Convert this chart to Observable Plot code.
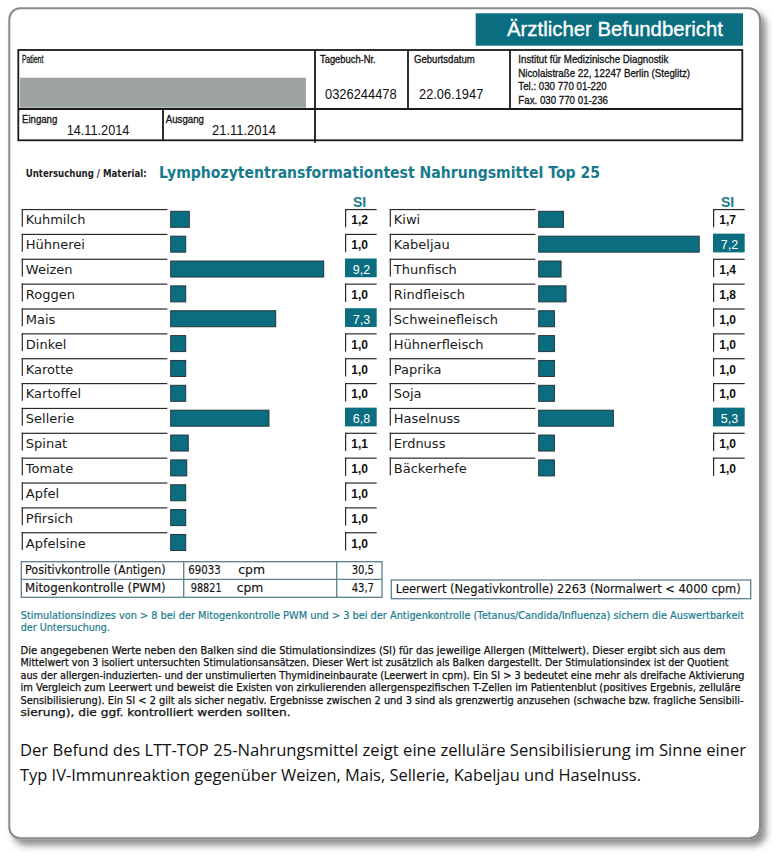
<!DOCTYPE html>
<html><head><meta charset="utf-8">
<script src="https://cdn.jsdelivr.net/npm/d3@7"></script>
<script src="https://cdn.jsdelivr.net/npm/@observablehq/plot@0.6"></script>
<style>
html,body{margin:0;padding:0;background:#fff;}
#page{position:relative;width:774px;height:854px;overflow:hidden;}
#page svg{position:absolute;}
</style></head><body><div id="page"></div>
<script>
// ---------- data ----------
const leftNames  = ["Kuhmilch","Hühnerei","Weizen","Roggen","Mais","Dinkel","Karotte","Kartoffel","Sellerie","Spinat","Tomate","Apfel","Pfirsich","Apfelsine"];
const leftSI     = [1.2,1.0,9.2,1.0,7.3,1.0,1.0,1.0,6.8,1.1,1.0,1.0,1.0,1.0];
// bar lengths as drawn in the report (SI units)
const leftBar    = [1.24,1.0,10.2,1.0,7.0,1.0,1.0,1.0,6.55,1.17,1.07,1.0,1.0,1.0];
const rightNames = ["Kiwi","Kabeljau","Thunfisch","Rindfleisch","Schweinefleisch","Hühnerfleisch","Paprika","Soja","Haselnuss","Erdnuss","Bäckerhefe"];
const rightSI    = [1.7,7.2,1.4,1.8,1.0,1.0,1.0,1.0,5.3,1.0,1.0];
const rightBar   = [1.65,10.7,1.49,1.82,1.05,1.05,1.05,1.05,4.98,1.05,1.05];
const siThreshold = 3;
const controlLabels = ["Positivkontrolle (Antigen)","Mitogenkontrolle (PWM)"];
const controlCpm    = ["69033","98821"];
const controlSI     = ["30,5","43,7"];

const TEAL = "#0b6e80", INK = "#2b2b2b";
const SANS = "Liberation Sans, Arial, sans-serif";
const NARROW = "Liberation Sans Narrow, Liberation Sans, Arial, sans-serif";
const GEO = "DejaVu Sans, sans-serif";

// ---------- static document ----------
const page = d3.select("#page");
const svg = page.append("svg").attr("width",774).attr("height",854).style("left","0px").style("top","0px");
const f = svg.append("defs").append("filter").attr("id","sh").attr("x","-5%").attr("y","-5%").attr("width","115%").attr("height","115%");
f.append("feDropShadow").attr("dx",5).attr("dy",6).attr("stdDeviation",3.5).attr("flood-color","#000").attr("flood-opacity",0.45);
svg.append("rect").attr("x",9.3).attr("y",8.3).attr("width",750.7).attr("height",830).attr("rx",11)
  .attr("fill","#fff").attr("stroke","#8a8a8a").attr("stroke-width",2).attr("filter","url(#sh)");

function T(s, x, y, o = {}) {
  const t = svg.append("text").attr("x", x).attr("y", y).text(s)
    .attr("font-family", o.font || SANS).attr("font-size", o.size || 10).attr("fill", o.fill || "#111");
  if (o.weight) t.attr("font-weight", o.weight);
  if (o.w) t.attr("textLength", o.w).attr("lengthAdjust", "spacingAndGlyphs");
  if (o.stroke) t.attr("stroke", o.stroke).attr("stroke-width", o.sw || 0.3);
  return t;
}
function L(x1, y1, x2, y2, stroke = "#1a1a1a", w = 1.8) {
  svg.append("line").attr("x1",x1).attr("y1",y1).attr("x2",x2).attr("y2",y2).attr("stroke",stroke).attr("stroke-width",w);
}

// header box
svg.append("rect").attr("x",475.7).attr("y",13.3).attr("width",267.3).attr("height",32.4).attr("fill",TEAL);
T("Ärztlicher Befundbericht", 507, 35.7, {size: 20.5, fill: "#fff", w: 216, stroke: "#fff", sw: 0.35});

// patient table
svg.append("rect").attr("x",20).attr("y",77.7).attr("width",286).attr("height",30).attr("fill","#9ea3a3");
svg.append("rect").attr("x",18.3).attr("y",50).attr("width",724).attr("height",90.3).attr("fill","none").attr("stroke","#1a1a1a").attr("stroke-width",1.8);
L(18.3,109,742.3,109);
L(315,50,315,142.7);
L(408,50,408,109);
L(510,50,510,109);
L(163,109,163,140.3);
const lab = {font: NARROW, size: 10.5, stroke: "#111", sw: 0.3};
T("Patient", 22, 63.3, {...lab, w: 21.3});
T("Tagebuch-Nr.", 320, 63.3, {...lab, w: 55.7});
T("0326244478", 325, 99, {font: NARROW, size: 15.5, w: 71.7});
T("Geburtsdatum", 414, 63.3, {...lab, w: 60.7});
T("22.06.1947", 419, 99, {font: NARROW, size: 15.5, w: 64.3});
const inst = {font: NARROW, size: 11, stroke: "#111", sw: 0.3};
T("Institut für Medizinische Diagnostik", 518.3, 63.3, {...inst, w: 150});
T("Nicolaistraße 22, 12247 Berlin (Steglitz)", 518.3, 76.5, {...inst, w: 171.7});
T("Tel.: 030 770 01-220", 518.3, 90, {...inst, w: 88.4});
T("Fax. 030 770 01-236", 518.3, 104, {...inst, w: 89.7});
T("Eingang", 22, 123.3, {...lab, w: 35.3});
T("14.11.2014", 66.7, 135, {font: NARROW, size: 15, w: 62.7});
T("Ausgang", 165.7, 123.3, {...lab, w: 38.3});
T("21.11.2014", 212, 135, {font: NARROW, size: 15, w: 64});

// title line
T("Untersuchung / Material:", 25.7, 177.3, {font: GEO, size: 9.8, weight: "bold", w: 121, fill: "#222"});
T("Lymphozytentransformationtest Nahrungsmittel Top 25", 159, 177.5, {font: GEO, size: 16, weight: "bold", w: 441, fill: "#177a8c"});

// control table
const CB = "#5d7f8f";
svg.append("rect").attr("x",21.3).attr("y",561.7).attr("width",360.7).attr("height",35.6).attr("fill","none").attr("stroke",CB).attr("stroke-width",1.3);
L(21.3,579.3,382,579.3,CB,1.3);
L(183.7,561.7,183.7,597.3,CB,1.3);
L(336.7,561.7,336.7,597.3,CB,1.3);
const rowBase = [574.3, 592.3];
const ct = {font: GEO, size: 12, stroke: "#111", sw: 0.15};
controlLabels.forEach((s,i) => {
  T(s, 25, rowBase[i], {...ct, w: 140.7});
  T(controlCpm[i], i ? 190.7 : 188.3, rowBase[i], {...ct, w: i ? 31 : 32.4});
  T("cpm", i ? 236.7 : 238.3, rowBase[i], {...ct, w: 26.7});
  T(controlSI[i], 351.7, rowBase[i], {...ct, w: 22.3});
});
svg.append("rect").attr("x",391.3).attr("y",580).attr("width",359.4).attr("height",18.7).attr("fill","none").attr("stroke",CB).attr("stroke-width",1.3);
T("Leerwert (Negativkontrolle)  2263   (Normalwert < 4000 cpm)", 395.7, 593.3, {...ct, w: 345});

// notes
const note = {font: GEO, size: 9.8, fill: "#1a7c8e", stroke: "#1a7c8e", sw: 0.2};
T("Stimulationsindizes von > 8 bei der Mitogenkontrolle PWM und > 3 bei der Antigenkontrolle (Tetanus/Candida/Influenza) sichern die Auswertbarkeit", 20.7, 619, {...note, w: 723.3});
T("der Untersuchung.", 20.7, 631, {...note, w: 89.3});

const para = [
  ["Die angegebenen Werte neben den Balken sind die Stimulationsindizes (SI) für das jeweilige Allergen (Mittelwert). Dieser ergibt sich aus dem", 705],
  ["Mittelwert von 3 isoliert untersuchten Stimulationsansätzen. Dieser Wert ist zusätzlich als Balken dargestellt. Der Stimulationsindex ist der Quotient", 708],
  ["aus der allergen-induzierten- und der unstimulierten Thymidineinbaurate (Leerwert in cpm). Ein SI > 3 bedeutet eine mehr als dreifache Aktivierung", 724],
  ["im Vergleich zum Leerwert und beweist die Existen von zirkulierenden allergenspezifischen T-Zellen im Patientenblut (positives Ergebnis, zelluläre", 720],
  ["Sensibilisierung). Ein SI < 2 gilt als sicher negativ. Ergebnisse zwischen 2 und 3 sind als grenzwertig anzusehen (schwache bzw. fragliche Sensibili-", 723],
  ["sierung), die ggf. kontrolliert werden sollten.", 270]
];
para.forEach(([s, w], i) => T(s, 20.5, 653.5 + i * 12.5, {font: GEO, size: 9.8, w, fill: "#111", stroke: "#111", sw: 0.25}));

const fin = {font: "Open Sans, Noto Sans, sans-serif", size: 16.5, fill: "#111"};
T("Der Befund des LTT-TOP 25-Nahrungsmittel zeigt eine zelluläre Sensibilisierung im Sinne einer", 20, 756, {...fin, w: 726});
T("Typ IV-Immunreaktion gegenüber Weizen, Mais, Sellerie, Kabeljau und Haselnuss.", 20, 781, {...fin, w: 621});

// ---------- charts (Observable Plot) ----------
function panel(names, si, bar) {
  const data = names.map((n, i) => ({name: n, si: si[i], bar: bar[i], hi: si[i] > siThreshold}));
  const W = 380, H = 370;
  const mL = 21.7, mR = W - 376.7;
  const frameW = W - mL - mR;
  const step = 24.86, y0 = 29.3 - step / 2;
  const fmt = d => d.si.toFixed(1).replace(".", ",");
  const lo = data.filter(d => !d.hi), hi = data.filter(d => d.hi);
  const siLeft = 323.3;
  return Plot.plot({
    width: W, height: H,
    marginLeft: mL, marginRight: mR, marginTop: 0, marginBottom: 0,
    x: {domain: [0, 10], range: [170.7, 320.7], axis: null},
    y: {domain: names, range: [y0, y0 + step * names.length], padding: 0, round: false, axis: null},
    style: {background: "transparent", overflow: "visible"},
    marks: [
      Plot.text(["SI"], {frameAnchor: "top-left", dx: 337.3, dy: 16.7, lineAnchor: "bottom", textAnchor: "middle",
        fontFamily: SANS, fontWeight: "bold", fontSize: 14, fill: "#177a8c"}),
      // label boxes (top + left edge)
      Plot.cell(data, {y: "name", fill: INK, insetRight: frameW - 145.6, insetTop: 2.1, insetBottom: step - 2.1 - 1.2}),
      Plot.cell(data, {y: "name", fill: INK, insetRight: frameW - 1.2, insetTop: 2.1, insetBottom: 4.9}),
      Plot.text(data, {y: "name", text: "name", frameAnchor: "left", dx: 3.6, dy: 0.5, textAnchor: "start",
        fontFamily: GEO, fontSize: 13, fill: "#1a1a1a"}),
      // bars
      Plot.barX(data, {x: "bar", y: "name", fill: TEAL, stroke: "#26363b", strokeWidth: 1, insetTop: 4.43, insetBottom: 4.43}),
      // SI boxes
      Plot.cell(lo, {y: "name", fill: INK, insetLeft: siLeft, insetTop: 2.1, insetBottom: step - 2.1 - 1.2}),
      Plot.cell(lo, {y: "name", fill: INK, insetLeft: siLeft, insetRight: frameW - siLeft - 1.2, insetTop: 2.1, insetBottom: 4.4}),
      Plot.cell(hi, {y: "name", fill: TEAL, insetLeft: siLeft, insetTop: 1.9, insetBottom: 4.2}),
      Plot.text(lo, {y: "name", text: fmt, frameAnchor: "left", dx: 337.5, dy: 0.8, textAnchor: "middle",
        fontFamily: SANS, fontWeight: "bold", fontSize: 12, fill: "#111"}),
      Plot.text(hi, {y: "name", text: fmt, frameAnchor: "left", dx: 339.3, dy: 0.8, textAnchor: "middle",
        fontFamily: SANS, fontSize: 12.5, fill: "#fff"})
    ]
  });
}
const p1 = panel(leftNames, leftSI, leftBar);
p1.style.left = "0px"; p1.style.top = "190px";
const p2 = panel(rightNames, rightSI, rightBar);
p2.style.left = "367.6px"; p2.style.top = "190px";
document.getElementById("page").append(p1, p2);
</script></body></html>
